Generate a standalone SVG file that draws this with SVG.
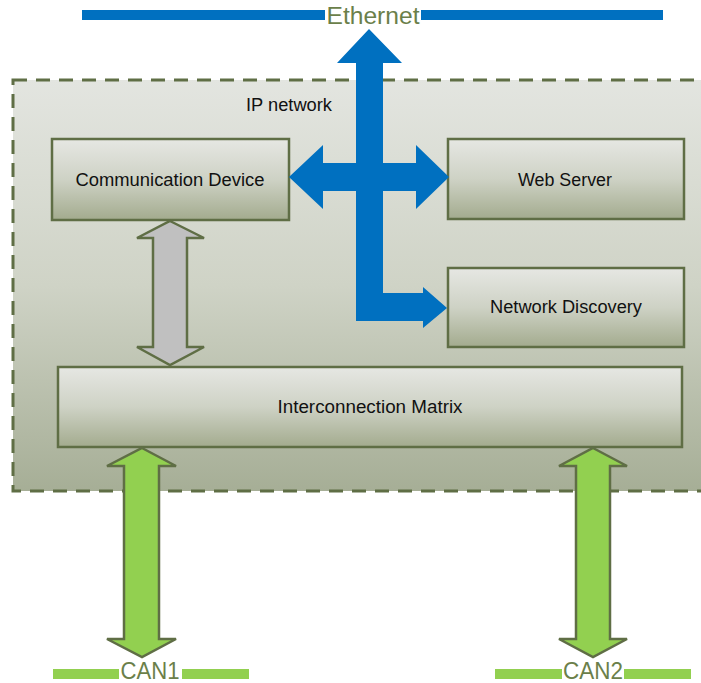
<svg xmlns="http://www.w3.org/2000/svg" width="701" height="683" viewBox="0 0 701 683">
<defs>
<linearGradient id="gBg" x1="0" y1="0" x2="0" y2="1">
<stop offset="0" stop-color="#e3e5e0"/>
<stop offset="0.5" stop-color="#cfd3c6"/>
<stop offset="1" stop-color="#a6ae96"/>
</linearGradient>
<linearGradient id="gNode" x1="0" y1="0" x2="0" y2="1">
<stop offset="0" stop-color="#e6e7e3"/>
<stop offset="0.5" stop-color="#ced2c5"/>
<stop offset="1" stop-color="#a3ab8e"/>
</linearGradient>
<style>
.node{fill:url(#gNode);stroke:#5f6e45;stroke-width:2.5}
.lbl{font-family:"Liberation Sans",Arial,sans-serif;font-size:17.5px;fill:#111;text-anchor:middle}
.bus{font-family:"Liberation Sans",Arial,sans-serif;font-size:23px;fill:#6b7f4a;text-anchor:middle}
.blue{fill:#0070c0}
.green{fill:#92d050;stroke:#5f6e45;stroke-width:2.5;stroke-linejoin:miter}
.gray{fill:#c0c0c0;stroke:#5f6e45;stroke-width:2.5}
</style>
</defs>
<rect width="701" height="683" fill="#ffffff"/>

<g id="ip-network">
<rect x="13" y="80" width="730" height="411" fill="url(#gBg)" stroke="#5f6e45" stroke-width="3" stroke-dasharray="14 9"/>
<text x="289" y="111" class="lbl" textLength="86" lengthAdjust="spacingAndGlyphs">IP network</text>
</g>

<g id="ethernet">
<rect x="82" y="10" width="243" height="10" fill="#0070c0"/>
<rect x="421" y="10" width="242" height="10" fill="#0070c0"/>
<text x="373" y="24" class="bus" textLength="93" lengthAdjust="spacingAndGlyphs">Ethernet</text>
</g>

<g id="can1">
<rect x="53" y="669" width="66" height="10" fill="#92d050"/>
<rect x="182" y="669" width="67" height="10" fill="#92d050"/>
<text x="150" y="679" class="bus" font-size="21" textLength="59" lengthAdjust="spacingAndGlyphs">CAN1</text>
</g>

<g id="can2">
<rect x="495" y="669" width="67" height="10" fill="#92d050"/>
<rect x="624" y="669" width="67" height="10" fill="#92d050"/>
<text x="593" y="679" class="bus" font-size="21" textLength="60" lengthAdjust="spacingAndGlyphs">CAN2</text>
</g>

<g id="communication-device">
<rect x="52" y="139" width="237" height="81" class="node"/>
<text x="170" y="186" class="lbl" textLength="189" lengthAdjust="spacingAndGlyphs">Communication Device</text>
</g>

<g id="web-server">
<rect x="448" y="139" width="236" height="80" class="node"/>
<text x="565" y="186" class="lbl" textLength="94" lengthAdjust="spacingAndGlyphs">Web Server</text>
</g>

<g id="network-discovery">
<rect x="448" y="268" width="236" height="79" class="node"/>
<text x="566" y="313" class="lbl" textLength="152" lengthAdjust="spacingAndGlyphs">Network Discovery</text>
</g>

<g id="interconnection-matrix">
<rect x="58" y="367" width="624" height="80" class="node"/>
<text x="370" y="413" class="lbl" textLength="185" lengthAdjust="spacingAndGlyphs">Interconnection Matrix</text>
</g>

<g id="connectors">
<path class="blue" d="M369,29 L402,63 L383,63 L383,163 L416,163 L416,145 L449,177 L416,209 L416,191 L383,191 L383,293 L423,293 L423,287 L447,308 L423,328 L423,321 L356,321 L356,191 L323,191 L323,209 L289,177 L323,145 L323,163 L356,163 L356,63 L337,63 Z"/>
<path class="gray" d="M170,221 L204,238 L187,238 L187,347 L204,347 L170,365 L137,347 L153,347 L153,238 L137,238 Z"/>
<path class="green" d="M142,448 L176,466 L159,466 L159,639 L176,639 L142,657 L107,639 L124,639 L124,466 L107,466 Z"/>
<path class="green" d="M593,448 L627,466 L610,466 L610,639 L627,639 L593,657 L559,639 L576,639 L576,466 L559,466 Z"/>
</g>
</svg>
